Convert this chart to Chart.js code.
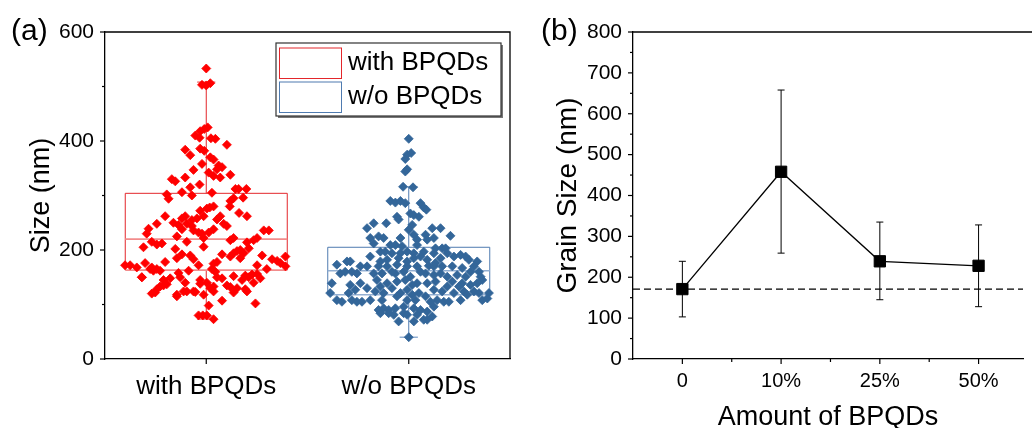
<!DOCTYPE html>
<html>
<head>
<meta charset="utf-8">
<script src="https://cdn.jsdelivr.net/npm/chart.js@4/dist/chart.umd.min.js"></script>
<style>
  body { margin: 0; background: #fff; }
  #wrap { position: relative; width: 1032px; height: 428px; overflow: hidden; }
  #chartA { position: absolute; left: 0; top: 0; }
  #chartB { position: absolute; left: 520px; top: 0; }
</style>
</head>
<body>
<div id="wrap">
  <canvas id="chartA" width="520" height="428"></canvas>
  <canvas id="chartB" width="512" height="428"></canvas>
</div>
<script>
// ---- panel (a): size distribution ----
const groups = ['with BPQDs', 'w/o BPQDs'];

// [size in nm, horizontal jitter in category units]
const redPoints = [
  [533,0],
  [503,-0.021],[502,0],[506,0.020],
  [418,-0.030],[422,-0.010],[425,0.007],
  [410,-0.054],[406,-0.033],[405,0.023],[404,0.045],
  [393,0.102],
  [384,-0.104],[386,-0.030],[382,-0.010],
  [374,-0.079],[370,0.020],[366,0.036],
  [358,-0.021],[355,0.061],[352,0.078],
  [347,-0.063],[342,0.012],[348,0.053],
  [330,-0.170],[326,-0.153],[333,-0.104],[336,0.036],[333,0.069],[338,0.119],
  [315,-0.079],[320,-0.033],[312,0.144],[312,0.160],[312,0.198],
  [302,-0.195],[306,-0.120],[300,-0.071],[305,0.028],[295,0.135],[296,0.182],
  [294,-0.186],[290,0.119],
  [272,-0.030],[276,0.003],[278,0.017],[280,0.036],[280,0.116],[268,0.162],
  [262,-0.203],[258,-0.120],[262,-0.104],[255,-0.071],[258,-0.046],[262,-0.013],[256,0.053],[262,0.069],[262,0.201],
  [239,-0.285],[248,-0.244],[250,-0.162],[246,-0.137],[248,-0.096],[244,-0.071],[248,0.086],[244,0.102],
  [230,-0.294],[238,-0.120],[236,-0.063],[232,-0.038],[230,-0.021],[232,0.012],[238,0.036],[236,0.284],[236,0.309],
  [215,-0.269],[225,-0.145],[215,-0.096],[222,-0.013],[218,0.119],[222,0.135],[214,0.201],[218,0.234],[222,0.251],
  [205,-0.310],[210,-0.244],[212,-0.219],[202,-0.153],[206,-0.013],[200,0.168],[203,0.210],
  [172,-0.401],[172,-0.376],[192,-0.120],[190,-0.079],[183,-0.063],[192,0.078],[188,0.119],[194,0.135],[198,0.152],[194,0.185],[190,0.276],[183,0.325],[188,0.391],
  [168,-0.343],[176,-0.302],[168,-0.269],[178,-0.203],[185,-0.145],[172,-0.038],[175,0.036],[178,0.053],[185,0.168],[172,0.251],[180,0.350],[176,0.366],
  [150,-0.318],[165,-0.277],[162,-0.261],[165,-0.244],[162,-0.228],[158,-0.137],[162,-0.087],[165,0.028],[160,0.045],[153,0.193],[156,0.251],[165,0.299],[170,0.391],
  [150,-0.318],[145,-0.211],[148,-0.178],[150,-0.129],[145,-0.030],[140,0.003],[150,0.053],[148,0.078],[152,0.135],[145,0.177],[150,0.210],[155,0.226],[148,0.267],
  [128,-0.244],[133,-0.228],[135,-0.211],[137,-0.195],[140,-0.104],[123,-0.054],[138,-0.030],[130,0.020],[133,0.036],[135,0.102],[132,0.119],[130,0.152],[128,0.193],[140,0.234],
  [120,-0.269],[122,-0.252],[118,-0.145],[124,-0.112],[124,-0.096],[124,-0.063],[118,-0.013],[124,0.036],[122,0.135],[124,0.201],
  [115,-0.145],[98,0.012],[107,0.078],[102,0.243],
  [80,-0.038],[80,-0.017],[80,0.003],
  [73,0.036]
];

const bluePoints = [
  [404,0],
  [375,-0.008],[378,0.012],[367,-0.017],
  [348,-0.008],[344,-0.017],
  [316,-0.028],[315,0.021],
  [290,-0.091],[287,-0.066],[290,-0.041],[286,-0.017],[286,0.058],[278,0.074],
  [274,0.087],[267,0.008],[264,0.025],[261,0.050],[261,-0.058],[256,-0.050],
  [249,-0.173],[249,-0.111],[240,-0.206],[246,0.017],[240,0.116],[240,0.157],[237,0],
  [228,0.025],[228,0.083],[226,0.206],[222,-0.190],[225,-0.149],[222,-0.124],[222,0.124],[219,0.091],[219,0.041],[222,-0.041],
  [212,-0.173],[209,-0.091],[209,-0.066],[207,-0.033],[209,0.041],[203,0.132],[203,0.165],[203,0.182],
  [197,-0.140],[197,-0.116],[194,-0.083],[197,-0.008],[197,0.074],[194,0.124],[194,0.190],[191,0.256],[188,0.281],[194,-0.041],[194,0.025],
  [188,-0.190],[182,-0.107],[185,-0.050],[185,0.025],[188,0.058],[185,0.157],[188,0.223],[182,0.297],[179,0.338],[182,0.091],[179,-0.008],[179,-0.140],[176,0.132],
  [173,-0.355],[179,-0.305],[179,-0.289],[170,-0.239],[170,-0.206],[170,-0.149],[173,-0.058],[170,-0.008],[170,0.041],[171,0.099],[170,0.124],[170,0.165],[170,0.215],[167,0.264],[170,0.322],[160,0.347],[170,-0.107],
  [157,-0.338],[160,-0.314],[160,-0.281],[157,-0.256],[157,-0.173],[157,-0.132],[157,-0.066],[151,0.008],[157,0.083],[154,0.124],[151,0.190],[154,0.239],[151,0.281],[151,0.355],
  [160,-0.083],[160,-0.025],[160,0.058],[157,0.157],[160,0.305],
  [139,-0.380],[136,-0.289],[139,-0.239],[145,-0.157],[139,-0.107],[142,-0.058],[145,-0.017],[139,0.041],[139,0.091],[142,0.132],[142,0.215],[139,0.264],[136,0.305],[139,0.338],[145,0.363],
  [133,-0.140],[136,0.017],[133,0.190],[133,0.248],
  [121,-0.388],[121,-0.297],[130,-0.206],[124,-0.165],[121,-0.124],[130,-0.083],[121,-0.041],[127,-0.008],[121,0.050],[127,0.124],[124,0.165],[121,0.223],[124,0.272],[124,0.322],[121,0.347],[121,0.396],
  [127,-0.264],[118,0.289],[115,-0.058],[118,0.017],
  [108,-0.355],[105,-0.330],[108,-0.281],[105,-0.256],[105,-0.231],[108,-0.190],[108,-0.008],[108,0.033],[115,0.083],[108,0.140],[105,0.173],[105,0.198],[108,0.256],[108,0.363],[111,0.388],[105,0.107],[108,-0.132],
  [90,-0.149],[93,-0.124],[90,-0.099],[93,-0.066],[96,-0.025],[93,0.025],[90,0.058],[87,0.091],[96,0.124],
  [84,-0.140],[84,-0.099],[84,-0.025],[81,-0.008],[81,0.041],[78,0.116],[72,0.091],[81,-0.074],
  [69,-0.050],[69,0.025],[72,0.074],
  [40,0]
];

// box statistics per group
const boxQ1 = [163, 118];
const boxMedian = [220, 162];
const boxQ3 = [304, 205];
const whiskerLow = [73, 40];
const whiskerHigh = [508, 316];

// ---- panel (b): grain size vs amount ----
const amountLabels = ['0', '10%', '25%', '50%'];
const grainSize = [171, 458, 239, 228];
const grainErrLow = [103, 259, 145, 128];
const grainErrHigh = [239, 658, 335, 328];
const referenceSize = 171;

const FONT = "'Liberation Sans', Arial, sans-serif";
Chart.defaults.font.family = FONT;
Chart.defaults.color = '#000';

const pointColors = ['#ff0000', '#336699'];
const boxColors = ['#e3262b', '#4f7bb0'];
const boxLight = ['#f28c8c', '#93afd2'];

function drawOwnTicks(chart) {
  const ctx = chart.ctx;
  ctx.save();
  ctx.strokeStyle = '#000';
  ctx.lineWidth = 1.2;
  Object.values(chart.scales).forEach(s => {
    s.ticks.forEach(t => {
      const p = s.getPixelForValue(t.value);
      const len = t.major ? 5 : 3;
      ctx.beginPath();
      if (s.isHorizontal()) {
        ctx.moveTo(p, s.top); ctx.lineTo(p, s.top + len);
      } else {
        ctx.moveTo(s.right, p); ctx.lineTo(s.right - len, p);
      }
      ctx.stroke();
    });
  });
  ctx.restore();
}

const panelA = {
  id: 'panelA',
  beforeDatasetsDraw(chart) {
    const {ctx, scales: {x, y}} = chart;
    ctx.save();
    groups.forEach((g, i) => {
      const c = i + 1;
      const xl = x.getPixelForValue(c - 0.4), xr = x.getPixelForValue(c + 0.4);
      const xc = x.getPixelForValue(c);
      const cw = x.getPixelForValue(c + 0.045) - xc;
      const yq1 = y.getPixelForValue(boxQ1[i]), yq3 = y.getPixelForValue(boxQ3[i]);
      const ym = y.getPixelForValue(boxMedian[i]);
      const ylo = y.getPixelForValue(whiskerLow[i]), yhi = y.getPixelForValue(whiskerHigh[i]);
      ctx.lineWidth = 1;
      ctx.strokeStyle = boxColors[i];
      ctx.beginPath();
      ctx.moveTo(xl, yq1); ctx.lineTo(xl, yq3); ctx.lineTo(xr, yq3); ctx.lineTo(xr, yq1);
      ctx.moveTo(xc, yq3); ctx.lineTo(xc, yhi);
      ctx.moveTo(xc, yq1); ctx.lineTo(xc, ylo);
      ctx.stroke();
      ctx.strokeStyle = boxLight[i];
      ctx.lineWidth = 1.6;
      ctx.beginPath();
      ctx.moveTo(xl, ym); ctx.lineTo(xr, ym);
      ctx.moveTo(xl, yq1); ctx.lineTo(xr, yq1);
      ctx.moveTo(xc - cw, yhi); ctx.lineTo(xc + cw, yhi);
      ctx.moveTo(xc - cw, ylo); ctx.lineTo(xc + cw, ylo);
      ctx.stroke();
    });
    ctx.restore();
  },
  afterDraw(chart) {
    const {ctx, chartArea: a} = chart;
    ctx.save();
    ctx.strokeStyle = '#000';
    ctx.lineWidth = 1.3;
    ctx.beginPath();
    ctx.moveTo(a.left, a.top); ctx.lineTo(a.right, a.top); ctx.lineTo(a.right, a.bottom);
    ctx.stroke();
    drawOwnTicks(chart);

    // legend
    const lx = 276, ly = 43, lw = 225, lh = 73;
    ctx.fillStyle = '#fff';
    ctx.fillRect(lx, ly, lw, lh);
    ctx.strokeStyle = '#777';
    ctx.lineWidth = 2;
    ctx.beginPath();
    ctx.moveTo(lx + lw + 1, ly + 2); ctx.lineTo(lx + lw + 1, ly + lh + 1); ctx.lineTo(lx + 2, ly + lh + 1);
    ctx.stroke();
    ctx.strokeStyle = '#333';
    ctx.lineWidth = 1.2;
    ctx.strokeRect(lx, ly, lw, lh);
    ctx.font = '26px ' + FONT;
    ctx.textBaseline = 'alphabetic';
    ctx.textAlign = 'left';
    groups.forEach((g, i) => {
      const top = ly + 4.5 + i * 34;
      ctx.strokeStyle = boxColors[i];
      ctx.lineWidth = 1;
      ctx.strokeRect(279.5, top + 0.5, 62, 30.5);
      ctx.fillStyle = '#000';
      ctx.fillText(g, 348, top + 22.5);
    });

    ctx.font = '30px ' + FONT;
    ctx.fillStyle = '#000';
    ctx.fillText('(a)', 11, 40);
    ctx.restore();
  }
};

new Chart(document.getElementById('chartA'), {
  type: 'scatter',
  data: {
    datasets: groups.map((g, i) => ({
      label: g,
      data: (i === 0 ? redPoints : bluePoints).map(p => ({x: i + 1 + p[1], y: p[0]})),
      pointStyle: 'rectRot',
      pointRadius: 4.5,
      pointBorderWidth: 0.8,
      backgroundColor: pointColors[i],
      borderColor: pointColors[i]
    }))
  },
  options: {
    responsive: false,
    animation: false,
    events: [],
    layout: {padding: {top: 32, right: 10, left: 0, bottom: 0}},
    plugins: {legend: {display: false}, tooltip: {enabled: false}},
    scales: {
      x: {
        type: 'linear', min: 0.5, max: 2.5,
        afterBuildTicks: s => { s.ticks = groups.map((g, i) => ({value: i + 1, major: true})); },
        afterFit: s => { s.height = 69; },
        ticks: {
          autoSkip: false, maxRotation: 0, padding: 12,
          font: {size: 26},
          callback: v => groups[v - 1] || ''
        },
        grid: {display: true, drawOnChartArea: false, drawTicks: false},
        border: {display: true, color: '#000', width: 1.3}
      },
      y: {
        min: 0, max: 600,
        afterBuildTicks: s => {
          const t = [];
          for (let v = 0; v <= 600; v += 100) t.push({value: v, major: v % 200 === 0});
          s.ticks = t;
        },
        afterFit: s => { s.width = 105; },
        ticks: {
          autoSkip: false, padding: 11,
          font: {size: 21},
          callback: v => (v % 200 === 0 ? String(v) : '')
        },
        grid: {display: true, drawOnChartArea: false, drawTicks: false},
        border: {display: true, color: '#000', width: 1.3},
        title: {display: true, text: 'Size (nm)', font: {size: 27, lineHeight: 1}, padding: {top: 28, bottom: 0}}
      }
    }
  },
  plugins: [panelA]
});

// ---- panel (b) ----
const panelB = {
  id: 'panelB',
  beforeDatasetsDraw(chart) {
    const {ctx, scales: {x, y}} = chart;
    ctx.save();
    ctx.strokeStyle = '#000';
    ctx.lineWidth = 1;
    grainSize.forEach((v, i) => {
      const px = x.getPixelForValue(i);
      const lo = y.getPixelForValue(grainErrLow[i]), hi = y.getPixelForValue(grainErrHigh[i]);
      ctx.beginPath();
      ctx.moveTo(px, lo); ctx.lineTo(px, hi);
      ctx.moveTo(px - 3.5, lo); ctx.lineTo(px + 3.5, lo);
      ctx.moveTo(px - 3.5, hi); ctx.lineTo(px + 3.5, hi);
      ctx.stroke();
    });
    ctx.restore();
  },
  afterDraw(chart) {
    const {ctx, chartArea: a} = chart;
    ctx.save();
    ctx.strokeStyle = '#000';
    ctx.lineWidth = 1.3;
    ctx.beginPath();
    ctx.moveTo(a.left, a.top); ctx.lineTo(chart.width, a.top);
    ctx.stroke();
    drawOwnTicks(chart);
    ctx.font = '30px ' + FONT;
    ctx.fillStyle = '#000';
    ctx.textBaseline = 'alphabetic';
    ctx.textAlign = 'left';
    ctx.fillText('(b)', 21, 40);
    ctx.restore();
  }
};

const xMinB = -0.5, xMaxB = 3.45;

new Chart(document.getElementById('chartB'), {
  type: 'line',
  data: {
    datasets: [
      {
        label: 'Grain size',
        data: grainSize.map((v, i) => ({x: i, y: v})),
        borderColor: '#000',
        borderWidth: 1.3,
        pointStyle: 'rect',
        pointRadius: 8,
        pointBorderWidth: 1,
        pointBackgroundColor: '#000',
        pointBorderColor: '#000'
      },
      {
        label: 'Reference',
        data: [{x: xMinB, y: referenceSize}, {x: xMaxB, y: referenceSize}],
        borderColor: '#000',
        borderWidth: 1.3,
        borderDash: [7, 4],
        pointRadius: 0
      }
    ]
  },
  options: {
    responsive: false,
    animation: false,
    events: [],
    layout: {padding: {top: 32, right: 0, left: 0, bottom: 0}},
    plugins: {legend: {display: false}, tooltip: {enabled: false}},
    scales: {
      x: {
        type: 'linear', min: xMinB, max: xMaxB,
        afterBuildTicks: s => {
          const t = [];
          for (let v = 0; v <= 3; v += 0.5) t.push({value: v, major: Number.isInteger(v)});
          s.ticks = t;
        },
        afterFit: s => { s.height = 69; },
        ticks: {
          autoSkip: false, maxRotation: 0, padding: 10,
          font: {size: 20},
          callback: v => (Number.isInteger(v) ? amountLabels[v] : '')
        },
        grid: {display: true, drawOnChartArea: false, drawTicks: false},
        border: {display: true, color: '#000', width: 1.3},
        title: {display: true, text: 'Amount of BPQDs', font: {size: 27, lineHeight: 1}, padding: {top: 0, bottom: -3}}
      },
      y: {
        min: 0, max: 800,
        afterBuildTicks: s => {
          const t = [];
          for (let v = 0; v <= 800; v += 50) t.push({value: v, major: v % 100 === 0});
          s.ticks = t;
        },
        afterFit: s => { s.width = 113; },
        ticks: {
          autoSkip: false, padding: 11,
          font: {size: 21},
          callback: v => (v % 100 === 0 ? String(v) : '')
        },
        grid: {display: true, drawOnChartArea: false, drawTicks: false},
        border: {display: true, color: '#000', width: 1.3},
        title: {display: true, text: 'Grain Size (nm)', font: {size: 28, lineHeight: 1}, padding: {top: 34, bottom: 0}}
      }
    }
  },
  plugins: [panelB]
});
</script>
</body>
</html>
